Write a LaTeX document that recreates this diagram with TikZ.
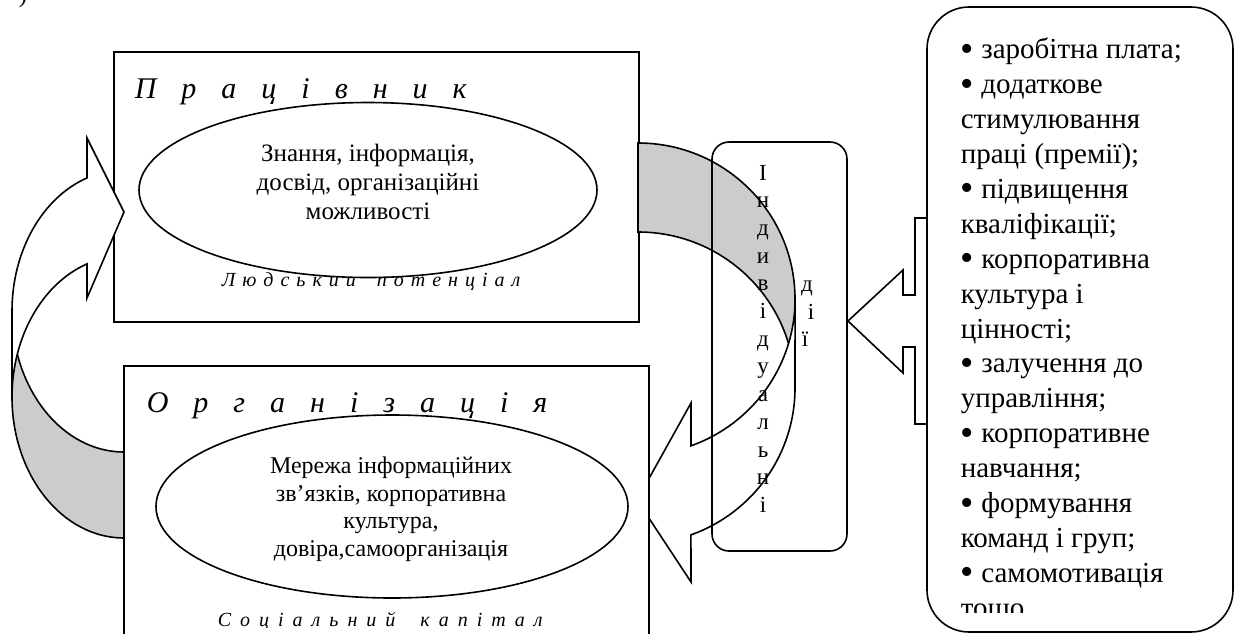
\documentclass[tikz,border=0pt]{standalone}
\usepackage{fontspec}
\setmainfont{Liberation Serif}
\usetikzlibrary{shapes.geometric}
\newcommand{\listdot}{\raisebox{-2.5pt}{\fontsize{38}{38}\selectfont•}}

\begin{document}
\begin{tikzpicture}[x=1pt, y=-1pt, line width=1.6pt,
  frame/.style={draw, fill=white, inner sep=0pt},
  back/.style={draw, fill=black!20},
  oval/.style={ellipse, draw, fill=white, inner sep=0pt},
  spaced/.style={anchor=base west, inner sep=0pt},
  inside/.style={anchor=north, inner sep=0pt, align=center},
  letter/.style={anchor=base, inner sep=0pt, font=\fontsize{23}{27}\selectfont}]
\useasboundingbox (0,0) rectangle (1235,633);

\node[anchor=base, inner sep=0pt, font=\fontsize{25}{29}\selectfont](mark) at (23,2) {)};

\node[frame, minimum width=525pt, minimum height=270pt](worker) at (376.5,187) {};
\node[spaced, font=\fontsize{30}{36}\selectfont\itshape](workertitle) at (134,98) {\spaceskip=25pt П р а ц і в н и к};
\node[spaced, font=\fontsize{20}{24}\selectfont\itshape](potential) at (221,286) {\spaceskip=7pt Л ю д с ь к и й\hspace{14pt} п о т е н ц і а л};
\node[oval, minimum width=458pt, minimum height=175pt](knowledge) at (368,190) {};
\node[inside, font=\fontsize{25}{29}\selectfont](knowledgetext) at (368,140.7) {\strut Знання, інформація,\\досвід, організаційні\\можливості};

\draw[back] (124,538) arc[start angle=90, end angle=180, x radius=112, y radius=141] -- (12,311)
  arc[start angle=180, end angle=90, x radius=112, y radius=141] -- cycle;
\draw[frame] (12,311) arc[start angle=180, end angle=250.7, x radius=112, y radius=141] -- (87,138) -- (124,212)
  -- (87,298) -- (87,263.9) arc[start angle=250.7, end angle=180, x radius=112, y radius=141] -- cycle;

\draw[back] (638,143) arc[start angle=-90, end angle=0, x radius=157, y radius=156] -- (795,388)
  arc[start angle=0, end angle=-90, x radius=157, y radius=156] -- cycle;
\draw[frame] (795,388) arc[start angle=0, end angle=70.3, x radius=157, y radius=156] -- (691,582) -- (637,500)
  -- (691,403) -- (691,445.8) arc[start angle=70.3, end angle=0, x radius=157, y radius=156] -- cycle;

\node[frame, minimum width=525pt, minimum height=334pt](organization) at (386.5,533) {};
\node[spaced, font=\fontsize{30}{36}\selectfont\itshape](orgtitle) at (146,412) {\spaceskip=25pt О р г а н і з а ц і я};
\begin{scope}
\clip (126,368) rectangle (647,627);
\node[spaced, font=\fontsize{20}{24}\selectfont\itshape](capital) at (217,626) {\spaceskip=9pt С о ц і а л ь н и й\hspace{16pt} к а п і т а л};
\end{scope}
\node[oval, minimum width=472pt, minimum height=183pt](network) at (392,506.5) {};
\node[inside, font=\fontsize{24}{27.5}\selectfont](networktext) at (391,453.75) {\strut Мережа інформаційних\\зв’язків, корпоративна\\культура,\\довіра,самоорганізація};

\node[draw, rounded corners=17pt, minimum width=135pt, minimum height=409pt, inner sep=0pt](actions) at (779.5,346.5) {};
\foreach \ch [count=\i] in {І,н,д,и,в,і,д,у,а,л,ь,н,і}
  \node[letter](ind\i) at (763,{180+(\i-1)*27.7}) {\ch};
\node[letter](act1) at (807,291) {д};
\node[letter](act2) at (811,319) {і};
\node[letter](act3) at (805,346) {ї};

\draw (927,218) -- (915,218) -- (915,295) -- (903,295) -- (903,270) -- (848,321) -- (903,373)
  -- (903,347) -- (915,347) -- (915,424) -- (927,424);
\node[frame, rounded corners=42pt, minimum width=306pt, minimum height=625pt](motivation) at (1080,319.5) {};
\begin{scope}
\clip (930,10) rectangle (1230,612);
\node[anchor=north west, inner sep=0pt, align=left, font=\fontsize{29}{34.9}\selectfont](motivationtext) at (960,33.6)
  {\strut\listdot{} заробітна плата;\\\listdot{} додаткове\\стимулювання\\праці (премії);\\\listdot{} підвищення\\кваліфікації;\\\listdot{} корпоративна\\культура і\\цінності;\\\listdot{} залучення до\\управління;\\\listdot{} корпоративне\\навчання;\\\listdot{} формування\\команд і груп;\\\listdot{} самомотивація\\тощо};
\end{scope}
\end{tikzpicture}
\end{document}
